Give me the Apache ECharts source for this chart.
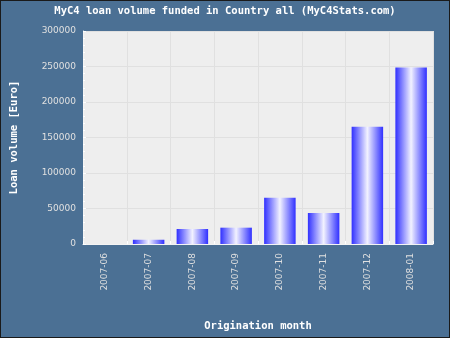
<!DOCTYPE html>
<html>
<head>
<meta charset="utf-8">
<script src="https://cdn.jsdelivr.net/npm/echarts@6/dist/echarts.min.js"></script>
<style>
  html, body { margin: 0; padding: 0; background: #4b7094; }
  #chart { width: 450px; height: 338px; box-sizing: border-box; border: 1px solid #1a1a1a; }
</style>
</head>
<body>
<div id="chart"></div>
<script>
// Monthly funded loan volume (EUR)
const months = ['2007-06', '2007-07', '2007-08', '2007-09', '2007-10', '2007-11', '2007-12', '2008-01'];
const volumes = [0, 6000, 21000, 23000, 65000, 43500, 165000, 248500];
const yTicks = [0, 50000, 100000, 150000, 200000, 250000, 300000];

const chart = echarts.init(document.getElementById('chart'), null, { renderer: 'canvas' });

const monoBold = { fontFamily: 'DejaVu Sans Mono', fontWeight: 'bold', fontSize: 10.5, color: '#ffffff' };

chart.setOption({
  backgroundColor: '#4b7094',
  animation: false,
  title: {
    text: 'MyC4 loan volume funded in Country all (MyC4Stats.com)',
    left: 'center',
    top: 0,
    textStyle: monoBold
  },
  grid: { left: 80, right: 16, top: 30, bottom: 93, backgroundColor: '#eeeeee', show: true, borderWidth: 0 },
  xAxis: {
    type: 'category',
    data: months,
    name: 'Origination month',
    nameLocation: 'middle',
    nameGap: 77,
    nameTextStyle: monoBold,
    axisLine: { lineStyle: { color: '#f4f4f4', width: 1 } },
    axisTick: { show: true, inside: true, length: 3, lineStyle: { color: '#ffffff' } },
    axisLabel: { rotate: 90, color: '#e0e0e0', fontFamily: 'DejaVu Sans', fontSize: 9, margin: 9 },
    splitLine: { show: true, lineStyle: { color: '#e0e0e0', width: 1 } }
  },
  yAxis: {
    type: 'value',
    min: yTicks[0],
    max: yTicks[yTicks.length - 1],
    interval: yTicks[1] - yTicks[0],
    name: 'Loan volume [Euro]',
    nameLocation: 'middle',
    nameGap: 63,
    nameRotate: 90,
    nameTextStyle: monoBold,
    axisLine: { show: true, lineStyle: { color: '#f4f4f4' } },
    axisTick: { show: true, inside: true, length: 3, lineStyle: { color: '#ffffff' } },
    minorTick: { show: true, splitNumber: 5, length: 2, lineStyle: { color: '#ffffff' } },
    axisLabel: { color: '#e0e0e0', fontFamily: 'DejaVu Sans', fontSize: 9, margin: 7, formatter: v => String(v) },
    splitLine: { lineStyle: { color: '#e0e0e0', width: 1 } }
  },
  series: [{
    type: 'bar',
    data: volumes,
    barWidth: '72%',
    itemStyle: {
      color: new echarts.graphic.LinearGradient(0, 0, 1, 0, [
        { offset: 0, color: '#3030ff' },
        { offset: 0.5, color: '#f2f2ff' },
        { offset: 1, color: '#3030ff' }
      ])
    }
  }]
});
</script>
</body>
</html>
